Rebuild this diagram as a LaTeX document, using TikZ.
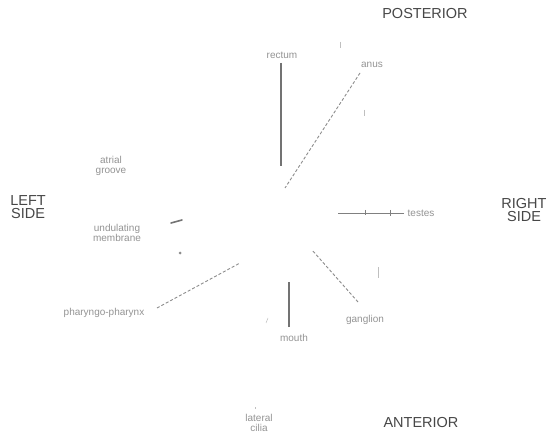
\documentclass[tikz,border=0pt]{standalone}
\usepackage{fontspec}
\setmainfont{Liberation Sans}
\begin{document}
\begin{tikzpicture}[x=1pt,y=-1pt,
  heading/.style={text=black!72,font=\fontsize{14.5}{15}\selectfont,align=center,inner sep=0pt},
  lbl/.style={text=black!42,font=\fontsize{10}{10}\selectfont,align=center,inner sep=0pt},
  solidline/.style={draw=black!55,line width=1.3pt},
  dashline/.style={draw=black!45,line width=0.9pt,dash pattern=on 3pt off 2pt},
  thinline/.style={draw=black!50,line width=0.6pt},
  faint/.style={draw=black!25,line width=0.5pt}]
\useasboundingbox[fill=white] (0,0) rectangle (553,435);
% headings
\node[heading] (post) at (425,14) {POSTERIOR};
\node[heading] (ant) at (421,423) {ANTERIOR};
\node[heading] (leftA) at (28,201) {LEFT};
\node[heading] (leftB) at (28,214) {SIDE};
\node[heading] (rightA) at (524,204) {RIGHT};
\node[heading] (rightB) at (524,217) {SIDE};
% labels
\node[lbl] (rectum) at (282,55) {rectum};
\node[lbl] (anus) at (372,65) {anus};
\node[lbl] (groove) at (111,166) {atrial\\groove};
\node[lbl] (membr) at (117,233) {undulating\\membrane};
\node[lbl] (phar) at (104,313) {pharyngo-pharynx};
\node[lbl] (testes) at (421,213) {testes};
\node[lbl] (gang) at (365,320) {ganglion};
\node[lbl] (mouth) at (294,338) {mouth};
\node[lbl] (cilia) at (259,423) {lateral\\cilia};
% end points
\coordinate (rectumA) at (281,63);
\coordinate (rectumB) at (281,166);
\coordinate (anusA) at (360,73);
\coordinate (anusB) at (285,188);
\coordinate (testesA) at (404,213);
\coordinate (testesB) at (338,213);
\coordinate (gangA) at (358,302);
\coordinate (gangB) at (312,250);
\coordinate (mouthA) at (289,327);
\coordinate (mouthB) at (289,282);
\coordinate (pharA) at (157,308);
\coordinate (pharB) at (240,263);
% connectors
\draw[solidline] (rectumA) -- (rectumB);
\draw[dashline] (anusA) -- (anusB);
\draw[thinline] (testesA) -- (testesB);
\draw[thinline] (365,210) -- (365,215);
\draw[thinline] (390,210) -- (390,216);
\draw[dashline] (gangA) -- (gangB);
\draw[solidline] (mouthA) -- (mouthB);
\draw[dashline] (pharA) -- (pharB);
% small marks
\draw[draw=black!55,line width=1.6pt,line cap=round] (171,223) -- (182,220);
\fill[black!45] (180,253) circle (1.5);
\draw[faint] (378,267) -- (378,278);
\draw[faint] (340,42) -- (340,48);
\draw[faint] (364,110) -- (364,116);
\draw[faint] (255,407) -- (255,409);
\draw[faint] (268,318) -- (266,323);
\end{tikzpicture}
\end{document}
